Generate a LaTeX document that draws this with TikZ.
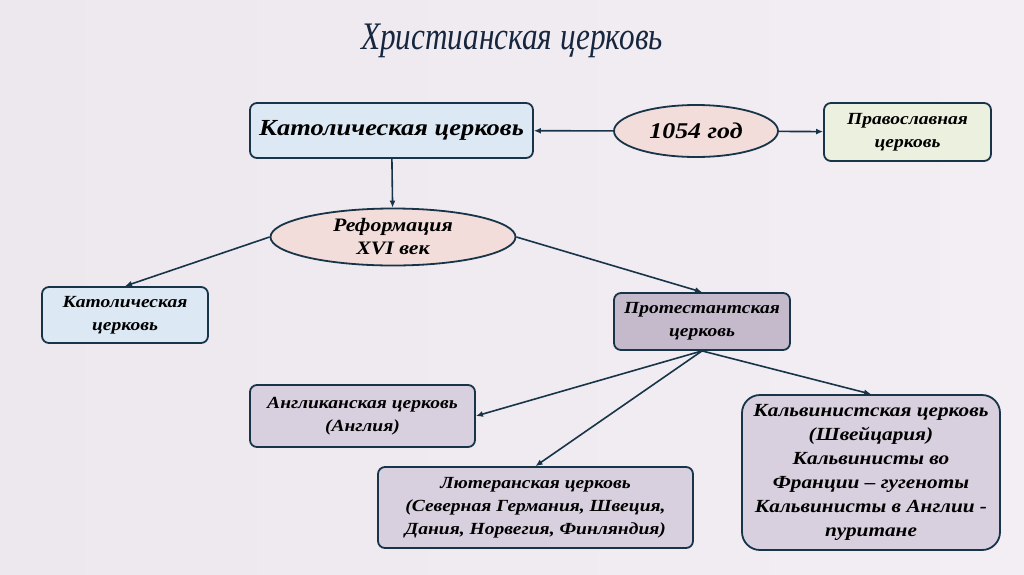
\documentclass[tikz,border=0pt]{standalone}
\usepackage{fontspec}
\setmainfont{Liberation Serif}[FakeStretch=1.15]
\newfontfamily\titlefont[FakeStretch=0.8]{Liberation Serif}
\usetikzlibrary{positioning, shapes.geometric, arrows.meta}
\definecolor{LineNavy}{RGB}{24, 52, 72}
\definecolor{TitleNavy}{RGB}{22, 38, 62}
\definecolor{CathBlue}{RGB}{220, 232, 244}
\definecolor{EventPink}{RGB}{242, 221, 219}
\definecolor{OrthGreen}{RGB}{236, 240, 222}
\definecolor{ProtMauve}{RGB}{196, 186, 204}
\definecolor{SubMauve}{RGB}{216, 208, 222}
\definecolor{BgLeft}{RGB}{236, 232, 238}
\definecolor{BgRight}{RGB}{242, 238, 244}

\begin{document}
\begin{tikzpicture}[
    x=1pt, y=-1pt,
    box/.style={rectangle, rounded corners=7pt, draw=LineNavy, line width=1.8pt, align=center, inner sep=2pt, font=\bfseries\itshape\fontsize{17}{23}\selectfont},
    cathbox/.style={box, fill=CathBlue},
    orthbox/.style={box, fill=OrthGreen},
    protbox/.style={box, fill=ProtMauve},
    subbox/.style={box, fill=SubMauve},
    event/.style={ellipse, draw=LineNavy, line width=1.8pt, fill=EventPink, align=center, inner sep=0pt, font=\bfseries\itshape\fontsize{19}{23}\selectfont},
    arrow/.style={-{Latex[length=7pt, width=6pt]}, line width=1.6pt, LineNavy}
  ]
    % Background
    \shade[left color=BgLeft, right color=BgRight] (0,0) rectangle (1024,574);

    % Title
    \node[font=\titlefont\itshape\fontsize{39}{42}\selectfont, text=TitleNavy] (title) at (512,41) {Христианская церковь};

    % Schism
    \node[cathbox, minimum width=283pt, minimum height=55pt, font=\bfseries\itshape\fontsize{23}{27}\selectfont] (cath) at (391.5,130.5) {Католическая церковь};
    \node[event, minimum width=164pt, minimum height=52pt, font=\bfseries\itshape\fontsize{22.5}{26}\selectfont] (year) at (696,131) {1054 год};
    \node[orthbox, minimum width=167pt, minimum height=58pt] (orth) at (907.5,132) {Православная\\церковь};

    % Reformation
    \node[event, minimum width=245pt, minimum height=57pt] (reform) at (393,237) {Реформация\\XVI век};
    \node[cathbox, minimum width=166pt, minimum height=56pt] (cath2) at (125,315) {Католическая\\церковь};
    \node[protbox, minimum width=176pt, minimum height=57pt] (prot) at (702,321.5) {Протестантская\\церковь};

    % Protestant branches
    \node[subbox, minimum width=225pt, minimum height=62pt] (angl) at (362.5,416) {Англиканская церковь\\(Англия)};
    \node[subbox, minimum width=315pt, minimum height=81pt] (luth) at (535.5,507.5) {Лютеранская церковь\\(Северная Германия, Швеция,\\Дания, Норвегия, Финляндия)};
    \node[subbox, minimum width=258pt, minimum height=155pt, rounded corners=18pt, font=\bfseries\itshape\fontsize{18.5}{24}\selectfont] (calv) at (871,472.5) {Кальвинистская церковь\\(Швейцария)\\Кальвинисты во\\Франции -- гугеноты\\Кальвинисты в Англии -\\пуритане};

    % Connections
    \draw[arrow] (year) -- (cath);
    \draw[arrow] (year) -- (orth);
    \draw[arrow] (cath) -- (reform);
    \draw[arrow] (reform.west) -- (cath2.north);
    \draw[arrow] (reform.east) -- (prot.north);
    \draw[arrow] (prot.south) -- (angl.east);
    \draw[arrow] (prot.south) -- (luth.north);
    \draw[arrow] (prot.south) -- (calv.north);
  \end{tikzpicture}
\end{document}
